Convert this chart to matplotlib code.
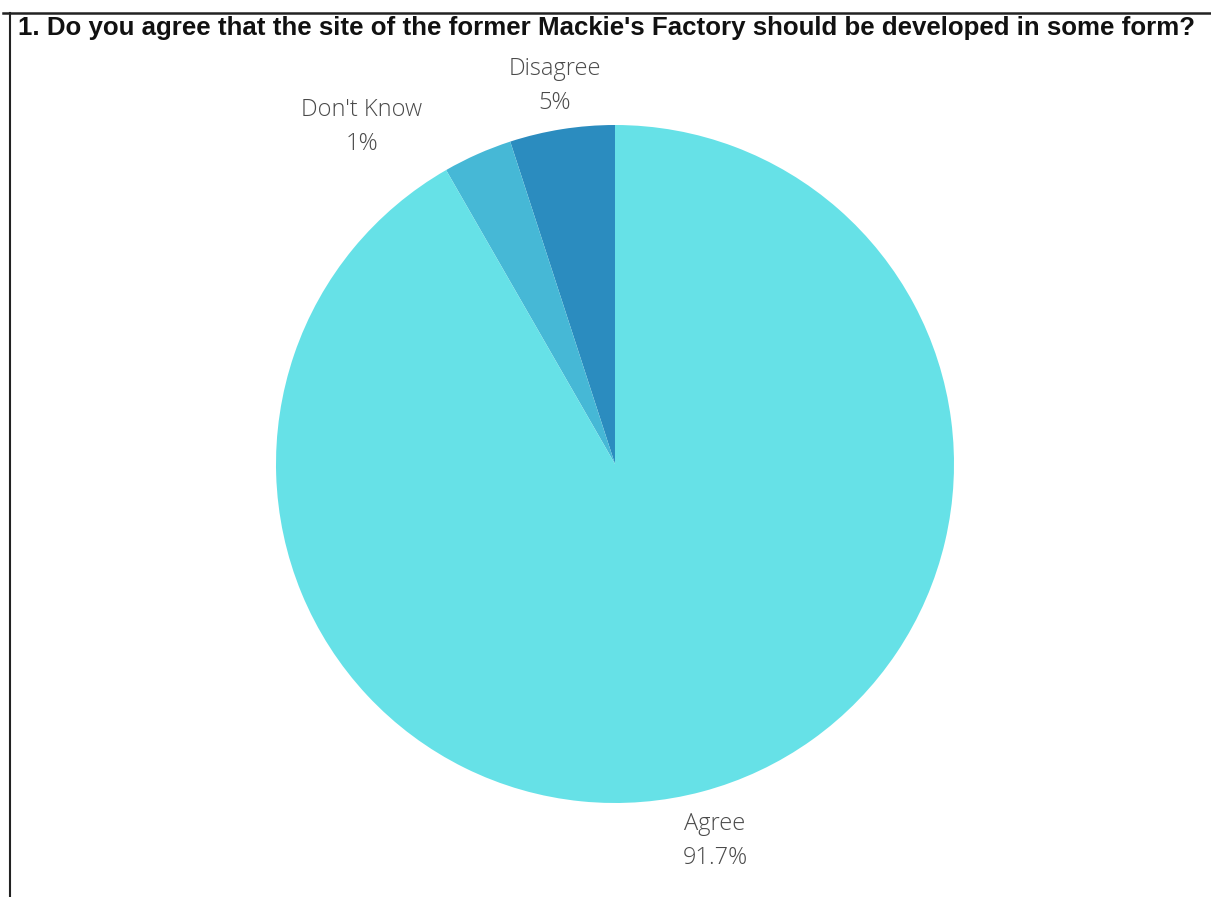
import matplotlib
matplotlib.use('Agg')
import matplotlib.pyplot as plt

# data
labels = ['Disagree', "Don't Know", 'Agree']
shares = [5.0, 3.3, 91.7]
label_text = ['Disagree\n5%', "Don't Know\n1%", 'Agree\n91.7%']
colors = ['#2b8cbf', '#46b8d6', '#66e1e7']
title = "1. Do you agree that the site of the former Mackie's Factory should be developed in some form?"

W, H = 1211, 897
fig = plt.figure(figsize=(W / 100, H / 100), dpi=100)
ax = fig.add_axes([0, 0, 1, 1])

# pie, centre in pixel coords (y flipped)
ax.pie(shares, colors=colors, startangle=90, counterclock=True,
       center=(615, H - 464), radius=339, frame=True,
       wedgeprops=dict(linewidth=0))
ax.set_xlim(0, W)
ax.set_ylim(0, H)
ax.set_aspect('equal')
ax.axis('off')

# labels
pos = [(555, H - 86), (362, H - 127), (715, H - 841)]
for t, (x, y) in zip(label_text, pos):
    ax.text(x, y, t, ha='center', va='center', fontsize=17,
            family=['Open Sans', 'DejaVu Sans'], fontweight='light',
            color='#4a4a4a', linespacing=1.6)

# title, squeezed to the width it has in the picture
tt = ax.text(18, H - 28, title, ha='left', va='center', fontsize=16,
             fontweight='bold', family=['Liberation Sans', 'DejaVu Sans'],
             fontstretch='condensed', color='#111111')
fig.canvas.draw()
w = tt.get_window_extent().width
tt.set_fontsize(16 * 1177 / w)

# border lines
ax.plot([3, W], [H - 13, H - 13], color='#222222', lw=1.8)
ax.plot([9.5, 9.5], [H - 13, 0], color='#222222', lw=1.5)

fig.savefig('out.png', dpi=100)
